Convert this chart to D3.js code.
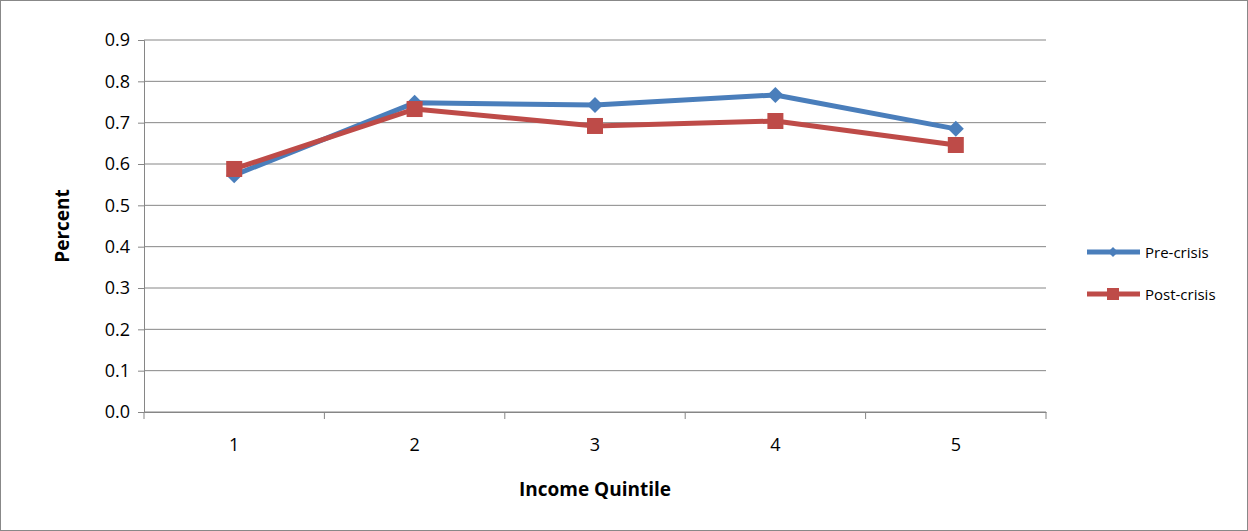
<!DOCTYPE html>
<html><head><meta charset="utf-8">
<script src="https://cdn.jsdelivr.net/npm/d3@7"></script>
<style>body{margin:0;background:#fff}text{font-family:"Open Sans","Liberation Sans",sans-serif}</style>
</head><body><svg id="c" width="1248" height="531"></svg>
<script>
const categories = ["1","2","3","4","5"];
const preCrisis = [0.573, 0.748, 0.743, 0.767, 0.685];
const postCrisis = [0.588, 0.733, 0.692, 0.704, 0.646];
const yTicks = [0,0.1,0.2,0.3,0.4,0.5,0.6,0.7,0.8,0.9];
const seriesNames = ["Pre-crisis","Post-crisis"];

const svg = d3.select("#c");
svg.append("rect").attr("x",0.5).attr("y",0.5).attr("width",1247).attr("height",530).attr("fill","#fff").attr("stroke","#888");
const L=144,R=1046,T=40,B=412;
const x = d3.scaleBand().domain(categories).range([L,R]);
const y = d3.scaleLinear().domain([0,0.9]).range([B,T]);

svg.append("g").selectAll("line").data(yTicks).join("line")
 .attr("x1",L).attr("x2",R).attr("y1",d=>y(d)).attr("y2",d=>y(d)).attr("stroke","#868686");
const ya = svg.append("g").attr("transform",`translate(${L},0)`).call(d3.axisLeft(y).tickValues(yTicks).tickFormat(d3.format(".1f")).tickSize(6).tickPadding(8));
ya.select(".domain").attr("stroke","#868686");
ya.selectAll("line").attr("stroke","#868686");
ya.selectAll("text").attr("font-size",18).attr("fill","#000");
const xa = svg.append("g").attr("transform",`translate(0,${B})`).call(d3.axisBottom(x).tickSize(0).tickPadding(26));
xa.select(".domain").attr("stroke","#868686");
xa.selectAll("text").attr("font-size",18).attr("fill","#000");
const bounds = categories.map(c=>x(c)).concat([R]);
svg.append("g").selectAll("line").data(bounds).join("line")
 .attr("x1",d=>d).attr("x2",d=>d).attr("y1",B).attr("y2",B+7).attr("stroke","#868686");

svg.append("text").attr("x",(L+R)/2).attr("y",496).attr("text-anchor","middle").attr("font-size",19).attr("font-weight","bold").text("Income Quintile");
svg.append("text").attr("transform",`translate(69,${(T+B)/2}) rotate(-90)`).attr("text-anchor","middle").attr("font-size",19).attr("font-weight","bold").text("Percent");

const cx = c=>x(c)+x.bandwidth()/2;
const line = d3.line().x((d,i)=>cx(categories[i])).y(d=>y(d));
const colors=["#4a7ebb","#be4b48"];
function diamond(g,px,py,s){g.append("path").attr("d",`M${px},${py-s}L${px+s},${py}L${px},${py+s}L${px-s},${py}Z`).attr("fill",colors[0]);}
function square(g,px,py,s){g.append("rect").attr("x",px-s).attr("y",py-s).attr("width",2*s).attr("height",2*s).attr("fill",colors[1]);}
[preCrisis,postCrisis].forEach((data,k)=>{
  svg.append("path").attr("d",line(data)).attr("fill","none").attr("stroke",colors[k]).attr("stroke-width",5).attr("stroke-linejoin","round");
  const g=svg.append("g");
  data.forEach((v,i)=>{ k==0?diamond(g,cx(categories[i]),y(v),8):square(g,cx(categories[i]),y(v),8); });
});
seriesNames.forEach((n,k)=>{
  const ly=252+k*42;
  svg.append("line").attr("x1",1087).attr("x2",1140).attr("y1",ly).attr("y2",ly).attr("stroke",colors[k]).attr("stroke-width",5);
  const g=svg.append("g");
  k==0?diamond(g,1113,ly,5):square(g,1113,ly,6);
  svg.append("text").attr("x",1145).attr("y",ly+6).attr("font-size",15).text(n);
});
</script></body></html>
